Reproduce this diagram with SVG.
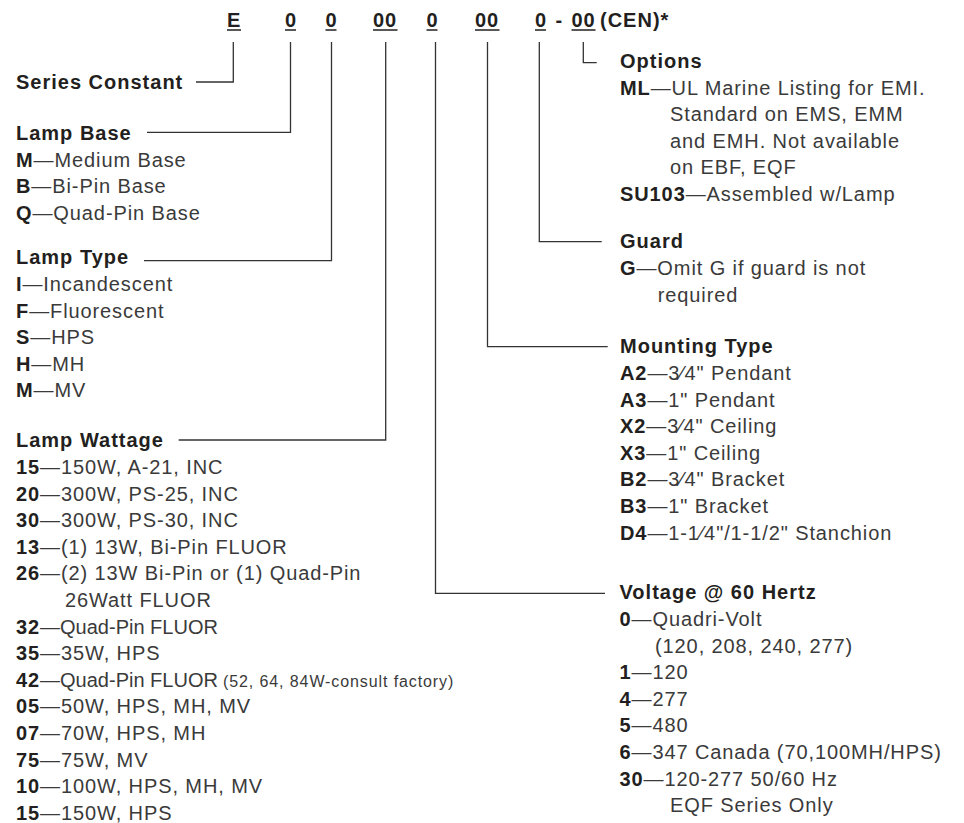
<svg xmlns="http://www.w3.org/2000/svg" width="964" height="823" viewBox="0 0 964 823">
<style>
text{font-family:"Liberation Sans",Arial,sans-serif;font-size:20px;fill:#3a3a3a;letter-spacing:0.9px}
.h{font-weight:bold;fill:#231f20;letter-spacing:1px}
.b{font-weight:bold;fill:#231f20}
.n{letter-spacing:0}
.sm{font-size:16px;letter-spacing:0.9px}
.ul{stroke:#231f20;stroke-width:1.5}
.c{fill:none;stroke:#333;stroke-width:1.3}
</style>
<rect width="964" height="823" fill="#fff"/>
<g id="header">
<text class="h" x="227" y="27">E</text>
<text class="h" x="285" y="27">0</text>
<text class="h" x="325.5" y="27">0</text>
<text class="h" x="373" y="27">00</text>
<text class="h" x="426.5" y="27">0</text>
<text class="h" x="475" y="27">00</text>
<text class="h" x="535" y="27">0</text>
<text class="h" x="555.5" y="27">-</text>
<text class="h" x="571.5" y="27">00</text>
<text class="h" x="600" y="27">(CEN)*</text>
<line class="ul" x1="227" y1="30" x2="241" y2="30"/>
<line class="ul" x1="285" y1="30" x2="296" y2="30"/>
<line class="ul" x1="325.5" y1="30" x2="336.5" y2="30"/>
<line class="ul" x1="373" y1="30" x2="397.5" y2="30"/>
<line class="ul" x1="426.5" y1="30" x2="437.5" y2="30"/>
<line class="ul" x1="475" y1="30" x2="499.5" y2="30"/>
<line class="ul" x1="535" y1="30" x2="546" y2="30"/>
<line class="ul" x1="571.5" y1="30" x2="595.5" y2="30"/>
</g>
<g id="connectors">
<path class="c" d="M233.3,42 V82 H196"/>
<path class="c" d="M290.5,42 V132.3 H147"/>
<path class="c" d="M331.5,42 V260.7 H144"/>
<path class="c" d="M385.7,42 V440 H178.7"/>
<path class="c" d="M435.5,42 V593.3 H605"/>
<path class="c" d="M487.5,42 V346.7 H607.7"/>
<path class="c" d="M539.3,42 V241.7 H601.7"/>
<path class="c" d="M583.3,42 V62.7 H596.7"/>
</g>
<g id="series-constant">
<text class="h" x="16" y="89">Series Constant</text>
</g>
<g id="lamp-base">
<text class="h" x="16" y="140">Lamp Base</text>
<text x="16" y="166.6"><tspan class="b">M</tspan>—Medium Base</text>
<text x="16" y="193.2"><tspan class="b">B</tspan>—Bi-Pin Base</text>
<text x="16" y="219.8"><tspan class="b">Q</tspan>—Quad-Pin Base</text>
</g>
<g id="lamp-type">
<text class="h" x="16" y="264.3">Lamp Type</text>
<text x="16" y="290.9"><tspan class="b">I</tspan>—Incandescent</text>
<text x="16" y="317.5"><tspan class="b">F</tspan>—Fluorescent</text>
<text x="16" y="344.1"><tspan class="b">S</tspan>—HPS</text>
<text x="16" y="370.7"><tspan class="b">H</tspan>—MH</text>
<text x="16" y="397.3"><tspan class="b">M</tspan>—MV</text>
</g>
<g id="lamp-wattage">
<text class="h" x="16" y="447.3">Lamp Wattage</text>
<text x="16" y="473.9"><tspan class="b">15</tspan>—150W, A-21, INC</text>
<text x="16" y="500.5"><tspan class="b">20</tspan>—300W, PS-25, INC</text>
<text x="16" y="527.1"><tspan class="b">30</tspan>—300W, PS-30, INC</text>
<text x="16" y="553.7"><tspan class="b">13</tspan>—(1) 13W, Bi-Pin FLUOR</text>
<text x="16" y="580.3"><tspan class="b">26</tspan>—(2) 13W Bi-Pin or (1) Quad-Pin</text>
<text x="65" y="606.9">26Watt FLUOR</text>
<text x="16" y="633.5"><tspan class="b">32</tspan><tspan class="n">—Quad-Pin FLUOR</tspan></text>
<text x="16" y="660.1"><tspan class="b">35</tspan>—35W, HPS</text>
<text x="16" y="686.7"><tspan class="b">42</tspan><tspan class="n">—Quad-Pin FLUOR</tspan><tspan class="sm" x="223">(52, 64, 84W-consult factory)</tspan></text>
<text x="16" y="713.3"><tspan class="b">05</tspan>—50W, HPS, MH, MV</text>
<text x="16" y="739.9"><tspan class="b">07</tspan>—70W, HPS, MH</text>
<text x="16" y="766.5"><tspan class="b">75</tspan>—75W, MV</text>
<text x="16" y="793.1"><tspan class="b">10</tspan>—100W, HPS, MH, MV</text>
<text x="16" y="819.7"><tspan class="b">15</tspan>—150W, HPS</text>
</g>
<g id="options">
<text class="h" x="620" y="68">Options</text>
<text x="620" y="94.6"><tspan class="b">ML</tspan>—UL Marine Listing for EMI.</text>
<text x="670" y="121.2">Standard on EMS, EMM</text>
<text x="670" y="147.8">and EMH. Not available</text>
<text x="670" y="174.4">on EBF, EQF</text>
<text x="620" y="201"><tspan class="b">SU103</tspan>—Assembled w/Lamp</text>
</g>
<g id="guard">
<text class="h" x="620" y="248.3">Guard</text>
<text x="620" y="274.9"><tspan class="b">G</tspan>—Omit G if guard is not</text>
<text x="657.7" y="301.5">required</text>
</g>
<g id="mounting-type">
<text class="h" x="620" y="353.3">Mounting Type</text>
<text x="620" y="379.9"><tspan class="b">A2</tspan>—3⁄4" Pendant</text>
<text x="620" y="406.5"><tspan class="b">A3</tspan>—1" Pendant</text>
<text x="620" y="433.1"><tspan class="b">X2</tspan>—3⁄4" Ceiling</text>
<text x="620" y="459.7"><tspan class="b">X3</tspan>—1" Ceiling</text>
<text x="620" y="486.3"><tspan class="b">B2</tspan>—3⁄4" Bracket</text>
<text x="620" y="512.9"><tspan class="b">B3</tspan>—1" Bracket</text>
<text x="620" y="539.5"><tspan class="b">D4</tspan>—1-1⁄4"/1-1/2" Stanchion</text>
</g>
<g id="voltage">
<text class="h" x="619.5" y="599.3">Voltage @ 60 Hertz</text>
<text x="619.5" y="625.9"><tspan class="b">0</tspan>—Quadri-Volt</text>
<text x="655" y="652.5">(120, 208, 240, 277)</text>
<text x="619.5" y="679.1"><tspan class="b">1</tspan>—120</text>
<text x="619.5" y="705.7"><tspan class="b">4</tspan>—277</text>
<text x="619.5" y="732.3"><tspan class="b">5</tspan>—480</text>
<text x="619.5" y="758.9"><tspan class="b">6</tspan>—347 Canada (70,100MH/HPS)</text>
<text x="619.5" y="785.5"><tspan class="b">30</tspan>—120-277 50/60 Hz</text>
<text x="670" y="812.1">EQF Series Only</text>
</g>
</svg>
